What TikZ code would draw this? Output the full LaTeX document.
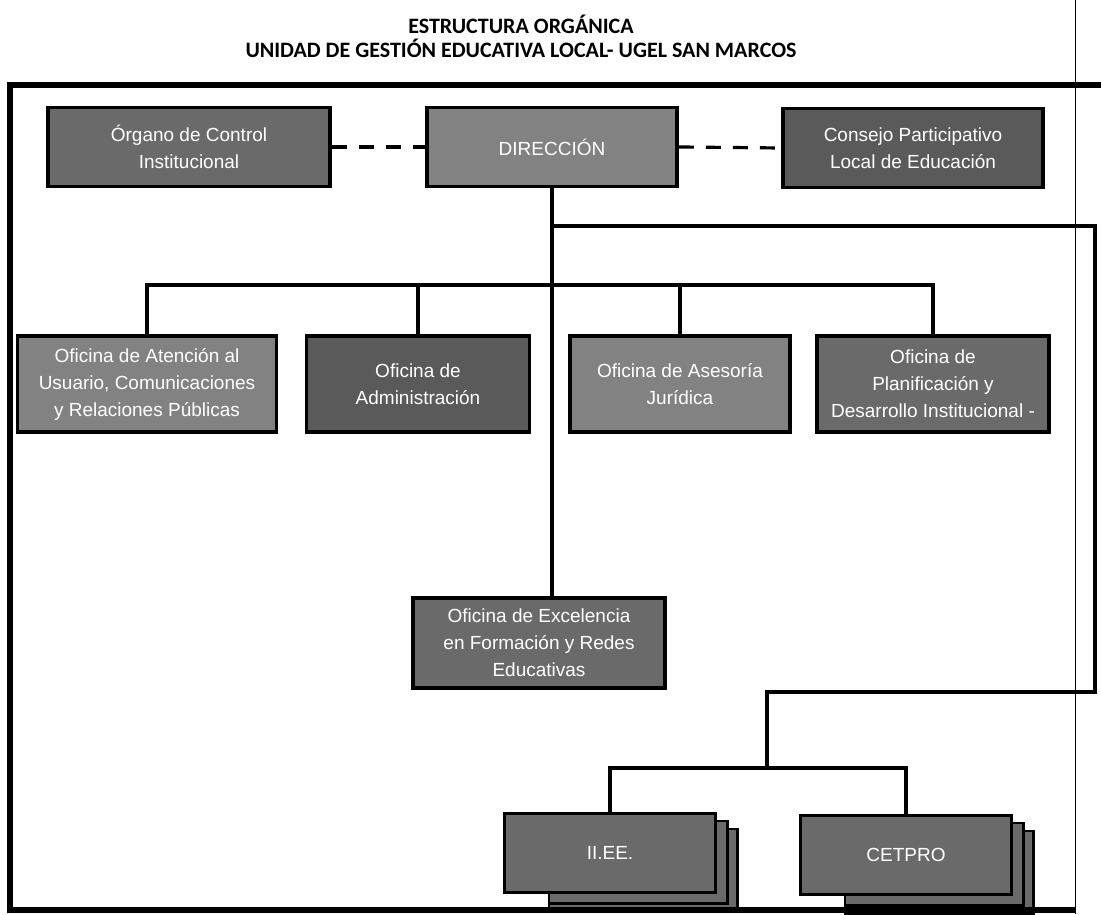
\documentclass[tikz,border=0pt]{standalone}
\usepackage{fontspec}
\setmainfont{Liberation Sans}
\newfontfamily\titlefont{Carlito}
\usetikzlibrary{backgrounds}
\definecolor{cajagris}{HTML}{6A6A6A}
\definecolor{cajaclara}{HTML}{828282}

\begin{document}
\begin{tikzpicture}[x=0.5pt, y=-0.5pt,
    caja/.style={draw=black, line width=1.8pt, fill=cajagris, text=white, align=center, inner sep=2pt,
        font=\fontsize{9.5}{13.5}\selectfont},
    capa/.style={draw=black, line width=1.2pt, fill=cajagris},
    conector/.style={line width=1.6pt},
    marco/.style={line width=3.3pt}]
            \useasboundingbox (0,0) rectangle (1101,914);
            \node[font=\titlefont\bfseries\fontsize{11}{12}\selectfont, align=center] (titulo) at (521,36)
                {ESTRUCTURA ORGÁNICA\\UNIDAD DE GESTIÓN EDUCATIVA LOCAL- UGEL SAN MARCOS};
            \draw[marco] (1101,85) -- (10,85) -- (10,910) -- (1075,910);
            \draw[line width=0.5pt] (1075,0) -- (1075,914);
            \node[caja, minimum width=141pt, minimum height=39.5pt] (organo) at (189,147) {Órgano de Control\\Institucional};
            \node[caja, fill=cajaclara, minimum width=125pt, minimum height=39.5pt] (direccion) at (552,147) {DIRECCIÓN};
            \node[caja, fill=cajagris!85!black, minimum width=130pt, minimum height=39.5pt] (consejo) at (913,148) {Consejo Participativo\\Local de Educación};
            \node[caja, fill=cajaclara, minimum width=129.5pt, minimum height=48pt] (atencion) at (147,384) {Oficina de Atención al\\Usuario, Comunicaciones\\y Relaciones Públicas};
            \node[caja, fill=cajagris!85!black, minimum width=111.5pt, minimum height=48pt] (admin) at (418,384) {Oficina de\\Administración};
            \node[caja, fill=cajaclara, minimum width=110pt, minimum height=48pt] (juridica) at (680,384) {Oficina de Asesoría\\Jurídica};
            \node[caja, minimum width=116pt, minimum height=48pt] (planif) at (933,384) {Oficina de\\Planificación y\\Desarrollo Institucional -};
            \node[caja, minimum width=126pt, minimum height=45pt] (excelencia) at (539,643) {Oficina de Excelencia\\en Formación y Redes\\Educativas};
            \node[caja, minimum width=105.5pt, minimum height=39.5pt] (iiee) at (610,853) {II.EE.};
            \node[caja, minimum width=105.5pt, minimum height=39.5pt] (cetpro) at (906,855) {CETPRO};
            \begin{scope}[on background layer]
                \foreach \n in {iiee,cetpro} {
                    \draw[capa] ([xshift=23pt,yshift=-8.5pt]\n.south west) rectangle ([xshift=10pt,yshift=-8.5pt]\n.north east);
                    \draw[capa] ([xshift=23pt,yshift=-4.5pt]\n.south west) rectangle ([xshift=5pt,yshift=-4.5pt]\n.north east);
                }
            \end{scope}
            \coordinate (bus) at (0,285);
            \coordinate (ramaA) at (1095,226);
            \coordinate (ramaB) at (1095,692);
            \coordinate (ramaC) at (767,692);
            \coordinate (ramaD) at (767,768);
            \draw[conector, dash pattern=on 7.5pt off 6pt] (organo.east) -- (direccion.west);
            \draw[conector, dash pattern=on 7.5pt off 6pt] (direccion.east) -- (consejo.west);
            \draw[conector] (direccion.south) -- (direccion.south |- excelencia.north);
            \draw[conector] (atencion.north) -- (atencion.north |- bus) -- (planif.north |- bus) -- (planif.north);
            \draw[conector] (admin.north) -- (admin.north |- bus);
            \draw[conector] (juridica.north) -- (juridica.north |- bus);
            \draw[conector] (direccion.south |- ramaA) -- (ramaA) -- (ramaB) -- (ramaC) -- (ramaD);
            \draw[conector] (iiee.north) -- (iiee.north |- ramaD) -- (cetpro.north |- ramaD) -- (cetpro.north);
        \end{tikzpicture}
\end{document}
